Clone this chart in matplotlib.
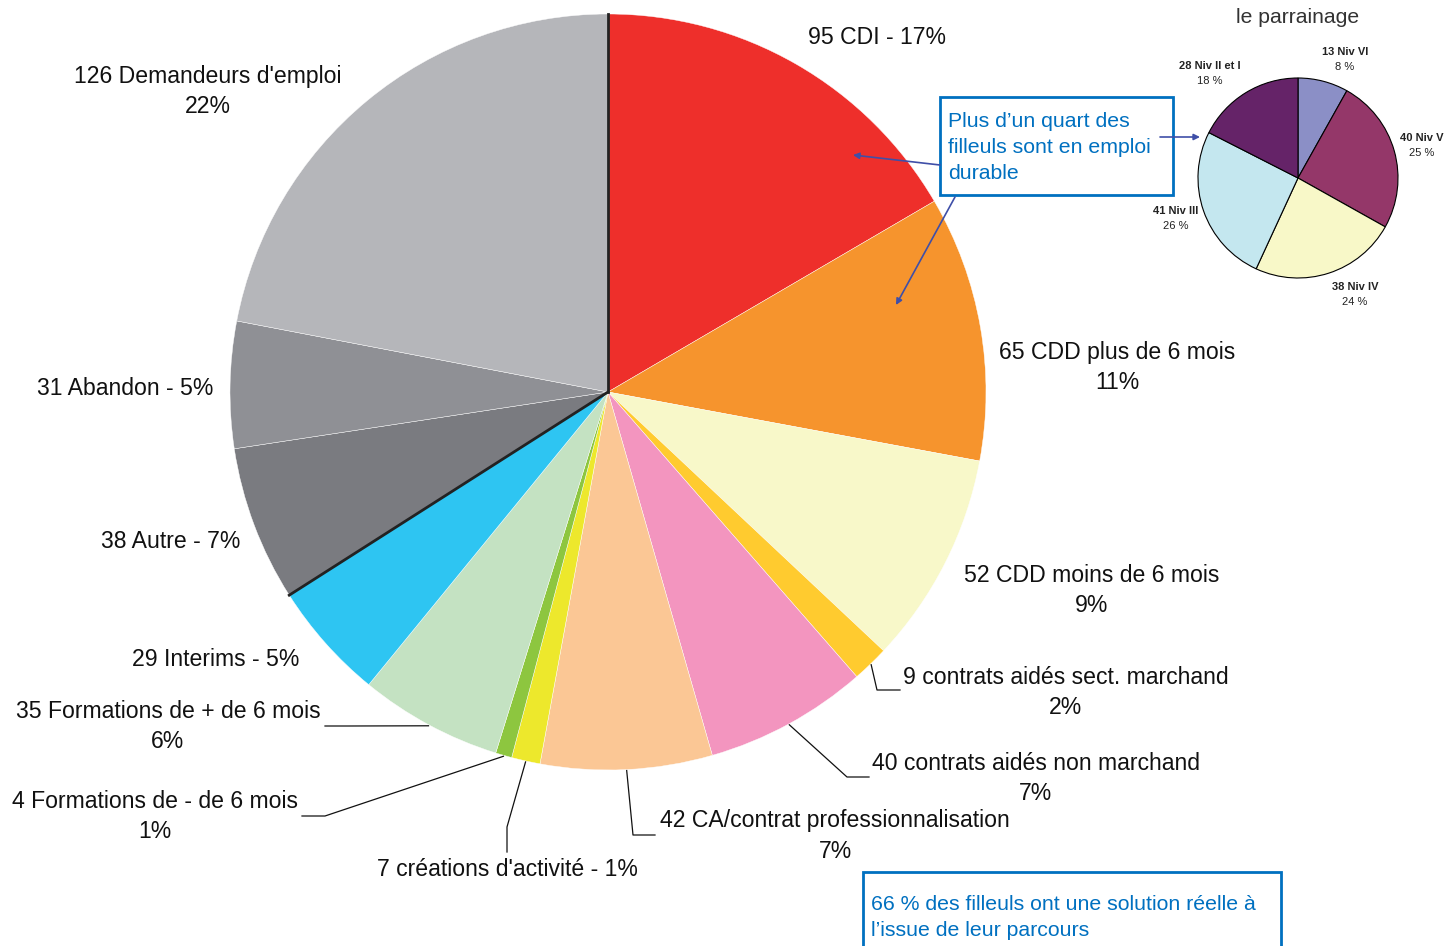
"""Parcours des filleuls : camembert principal + encart niveaux de parrainage."""

import numpy as np
import matplotlib
matplotlib.use('Agg')
import matplotlib.pyplot as plt
from matplotlib.patches import Rectangle

plt.rcParams['font.family'] = ['Liberation Sans', 'DejaVu Sans']

# --- data -------------------------------------------------------------
labels = ['95 CDI - 17%', '65 CDD plus de 6 mois\n11%', '52 CDD moins de 6 mois\n9%',
          '9 contrats aidés sect. marchand\n2%', '40 contrats aidés non marchand\n7%',
          '42 CA/contrat professionnalisation\n7%', "7 créations d'activité - 1%",
          '4 Formations de - de 6 mois\n1%', '35 Formations de + de 6 mois\n6%',
          '29 Interims - 5%', '38 Autre - 7%', '31 Abandon - 5%',
          "126 Demandeurs d'emploi\n22%"]
counts = [95, 65, 52, 9, 40, 42, 7, 4, 35, 29, 38, 31, 126]
colors = ['#EE2F2B', '#F6942D', '#F8F8C9', '#FFCB2F', '#F395BF', '#FBC795',
          '#EDE82C', '#8DC63F', '#C4E2C2', '#2EC5F2', '#7A7B80', '#8F9095', '#B5B6BA']

niv_labels = ['13 Niv VI', '40 Niv V', '38 Niv IV', '41 Niv III', '28 Niv II et I']
niv_pct = ['8 %', '25 %', '24 %', '26 %', '18 %']
niv_counts = [13, 40, 38, 41, 28]
niv_colors = ['#8B8FC6', '#943769', '#F8F8C8', '#C4E7EF', '#652368']

W, H = 1446, 946
fig = plt.figure(figsize=(W / 100, H / 100), dpi=100)
ax = fig.add_axes([0, 0, 1, 1])

# main pie (pixel coordinates, y axis inverted -> counterclock draws clockwise)
cx, cy, r = 608, 392, 378
ax.pie(counts, colors=colors, startangle=-90, counterclock=True,
       center=(cx, cy), radius=r,
       wedgeprops=dict(edgecolor='white', linewidth=0.3))

cum = np.cumsum([0] + counts) / sum(counts) * 2 * np.pi


def on_circle(t, rad, x0=cx, y0=cy):
    return x0 + rad * np.sin(t), y0 - rad * np.cos(t)


# dark separators (top, and between Interims / Autre)
for idx in (0, 10):
    x1, y1 = on_circle(cum[idx], r)
    ax.plot([cx, x1], [cy, y1], color='#222222', lw=2, zorder=3)

# label positions: (x, y of first line) and optional leader elbow
label_pos = [
    (877, 37), (1117, 352), (1092, 575), (1066, 677), (1036, 764), (835, 821),
    (507, 869), (155, 802), (168, 712), (216, 659), (171, 541), (125, 388),
    (208, 76),
]
leaders = {
    3: [(877, 690), (900, 690)],
    4: [(847, 777), (869, 777)],
    5: [(633, 835), (655, 835)],
    6: [(507, 827), (507, 852)],
    7: [(325, 816), (302, 816)],
    8: [(348, 726), (325, 726)],
}

for i, lab in enumerate(labels):
    x, y = label_pos[i]
    for k, line in enumerate(lab.split('\n')):
        ax.text(x, y + k * 30, line, ha='center', va='center', fontsize=16.6,
                color='#111111')
    if i in leaders:
        mid = (cum[i] + cum[i + 1]) / 2
        sx, sy = on_circle(mid, r + 1)
        pts = [(sx, sy)] + leaders[i]
        ax.plot([p[0] for p in pts], [p[1] for p in pts], color='#111111',
                lw=0.9, zorder=3)

# small pie: le parrainage
scx, scy, sr = 1298, 178, 100
ax.pie(niv_counts, colors=niv_colors, startangle=-90, counterclock=True,
       center=(scx, scy), radius=sr,
       wedgeprops=dict(edgecolor='black', linewidth=0.8))
ax.text(scx, 17, 'le parrainage', ha='center', va='center', fontsize=15.2,
        color='#333333')
niv_pos = [(1345, 52), (1422, 138), (1355, 287), (1176, 211), (1210, 66)]
for (x, y), lab, pct in zip(niv_pos, niv_labels, niv_pct):
    ax.text(x, y, lab, ha='center', va='center', fontsize=8, fontweight='bold',
            color='#222222')
    ax.text(x, y + 15, pct, ha='center', va='center', fontsize=8, color='#222222')

# callouts
blue = '#0070C0'
arrow_col = '#3F4FA8'
ax.add_patch(Rectangle((940, 97), 233, 98, fill=True, facecolor='white',
                       edgecolor=blue, lw=2, zorder=4))
for k, line in enumerate(['Plus d’un quart des', 'filleuls sont en emploi', 'durable']):
    ax.text(948, 121 + k * 26, line, ha='left', va='center', fontsize=15.3,
            color=blue, zorder=5)

for (x0, y0), (x1, y1) in [((940, 165), (853, 155)), ((955, 197), (896, 305)),
                           ((1160, 137), (1200, 137))]:
    ax.annotate('', xy=(x1, y1), xytext=(x0, y0), zorder=5,
                arrowprops=dict(arrowstyle='-|>', color=arrow_col, lw=1.2,
                                mutation_scale=9, shrinkA=0, shrinkB=0))

ax.add_patch(Rectangle((863, 872), 418, 100, fill=True, facecolor='white',
                       edgecolor=blue, lw=2, zorder=4))
for k, line in enumerate(['66 % des filleuls ont une solution réelle à',
                          'l’issue de leur parcours']):
    ax.text(871, 905 + k * 25, line, ha='left', va='center', fontsize=15.3,
            color=blue, zorder=5)

ax.set_xlim(0, W)
ax.set_ylim(H, 0)
ax.set_aspect('equal')
ax.axis('off')

fig.savefig('out.png', dpi=100)
plt.close(fig)
